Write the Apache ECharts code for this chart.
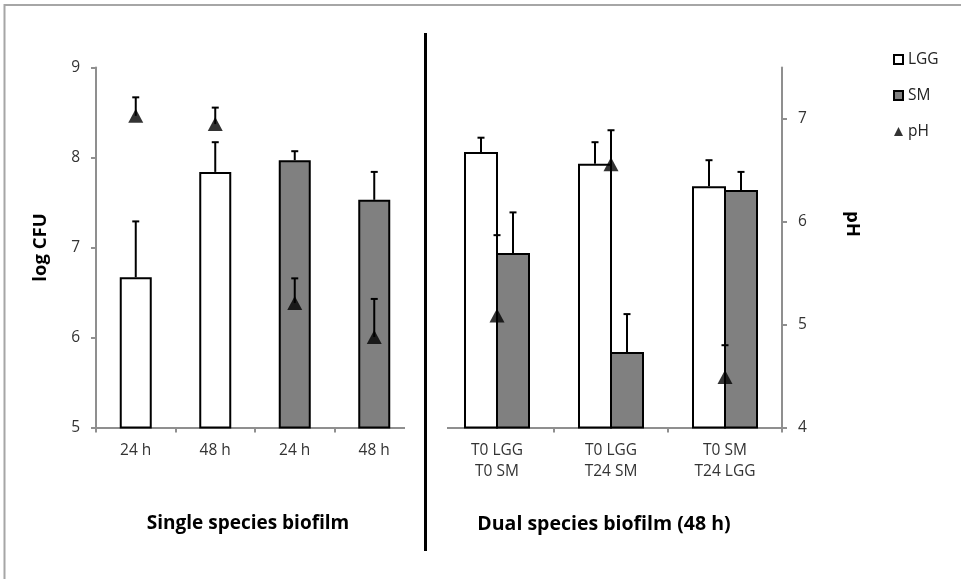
<!DOCTYPE html>
<html>
<head>
<meta charset="utf-8">
<script src="https://cdn.jsdelivr.net/npm/echarts@6/dist/echarts.min.js"></script>
<style>
  html, body { margin: 0; padding: 0; background: #fff; }
  #chart { width: 961px; height: 579px; }
</style>
</head>
<body>
<div id="chart"></div>
<script>
// Single species biofilm (left panel)
const singleCats = ['24 h', '48 h', '24 h', '48 h'];
const singleLGG = [6.67, 7.84, null, null];
const singleLGGErr = [0.62, 0.33, null, null];
const singleSM = [null, null, 7.97, 7.53];
const singleSMErr = [null, null, 0.10, 0.31];
const singlePH = [7.03, 6.95, 5.21, 4.88];
const singlePHErr = [0.18, 0.16, 0.24, 0.37];

// Dual species biofilm, 48 h (right panel)
const dualCats = ['T0 LGG\nT0 SM', 'T0 LGG\nT24 SM', 'T0 SM\nT24 LGG'];
const dualLGG = [8.06, 7.93, 7.68];
const dualLGGErr = [0.16, 0.24, 0.29];
const dualSM = [6.94, 5.84, 7.64];
const dualSMErr = [0.45, 0.42, 0.20];
const dualPH = [5.09, 6.56, 4.49];
const dualPHErr = [0.78, 0.33, 0.31];

// Axis ticks
const cfuTicks = [5, 6, 7, 8, 9];
const phTicks = [4, 5, 6, 7];

const FONT = '"Open Sans", Lato, sans-serif';
const AXIS_GREY = '#8f8f8f';
const SM_GREY = '#808080';

// Right-panel bar geometry: paired bars share their touching border
const DUAL_BAR_W = 34;
const DUAL_OVERLAP = 2;
const DUAL_OFFSET = (DUAL_BAR_W - DUAL_OVERLAP) / 2;

// Pair each value with its category index and error for the error-bar series
function errData(values, errs) {
  return values.map((v, i) => [i, v == null ? null : v, errs[i] == null ? null : errs[i]]);
}

// Upward-only error bar with a short cap; dx shifts it onto a side-by-side bar
function errorBar(dx) {
  return function (params, api) {
    const v = api.value(1);
    const e = api.value(2);
    if (v == null || isNaN(v) || e == null || isNaN(e)) return;
    const p0 = api.coord([api.value(0), v]);
    const p1 = api.coord([api.value(0), v + e]);
    const x = p0[0] + dx;
    const style = { stroke: '#000', lineWidth: 2 };
    return {
      type: 'group',
      children: [
        { type: 'line', shape: { x1: x, y1: p0[1], x2: x, y2: p1[1] }, style },
        { type: 'line', shape: { x1: x - 3.5, y1: p1[1], x2: x + 3.5, y2: p1[1] }, style }
      ]
    };
  };
}

const catAxis = (gridIndex, data) => ({
  type: 'category',
  gridIndex,
  data,
  axisLine: { show: true, lineStyle: { color: AXIS_GREY, width: 2 } },
  axisTick: { show: true, interval: 0, length: 5, lineStyle: { color: AXIS_GREY, width: 2 } },
  axisLabel: { interval: 0, margin: 13, fontFamily: FONT, fontSize: 15.5, color: '#333', lineHeight: 21 },
  splitLine: { show: false }
});

const valAxis = (gridIndex, min, max, ticks, show, position) => ({
  type: 'value',
  gridIndex,
  min, max, interval: 1,
  show,
  position,
  axisLine: { show: true, lineStyle: { color: AXIS_GREY, width: 2 } },
  axisTick: { show: true, length: 5, customValues: ticks, lineStyle: { color: AXIS_GREY, width: 2 } },
  axisLabel: { customValues: ticks, margin: 16, fontFamily: FONT, fontSize: 15.5, color: '#333' },
  splitLine: { show: false }
});

const barStyle = (fill) => ({ color: fill, borderColor: '#000', borderWidth: 2 });

const chart = echarts.init(document.getElementById('chart'), null, { renderer: 'canvas' });

const cfuAxisLeft = valAxis(0, 5, 9, cfuTicks, true, 'left');
Object.assign(cfuAxisLeft, {
  name: 'log CFU',
  nameLocation: 'middle',
  nameRotate: 90,
  nameGap: 46,
  nameTextStyle: { fontFamily: FONT, fontSize: 18.5, fontWeight: 'bold', color: '#000' }
});

chart.setOption({
  animation: false,
  backgroundColor: '#fff',
  grid: [
    { left: 96, right: 547, top: 67.5, bottom: 151.5 },
    { left: 440, right: 179, top: 67.5, bottom: 151.5 }
  ],
  legend: {
    orient: 'vertical',
    left: 888,
    top: 45,
    itemWidth: 9,
    itemHeight: 9,
    itemGap: 17,
    textStyle: { fontFamily: FONT, fontSize: 15.5, color: '#222', lineHeight: 19 },
    data: [
      { name: 'LGG', icon: 'rect' },
      { name: 'SM', icon: 'rect' },
      { name: 'pH', icon: 'triangle' }
    ]
  },
  xAxis: [catAxis(0, singleCats), catAxis(1, dualCats)],
  yAxis: [
    cfuAxisLeft,
    valAxis(0, 4, 7.5, phTicks, false, 'right'),
    valAxis(1, 5, 9, cfuTicks, false, 'left'),
    valAxis(1, 4, 7.5, phTicks, true, 'right')
  ],
  series: [
    // left panel bars: one bar per category, LGG and SM overlaid on the same slot
    { name: 'LGG', type: 'bar', xAxisIndex: 0, yAxisIndex: 0, data: singleLGG, barWidth: 32, barGap: '-100%', itemStyle: barStyle('#fff'), z: 2 },
    { name: 'SM', type: 'bar', xAxisIndex: 0, yAxisIndex: 0, data: singleSM, barWidth: 32, barGap: '-100%', itemStyle: barStyle(SM_GREY), z: 2 },
    { type: 'custom', xAxisIndex: 0, yAxisIndex: 0, data: errData(singleLGG, singleLGGErr), renderItem: errorBar(0), z: 3, silent: true },
    { type: 'custom', xAxisIndex: 0, yAxisIndex: 0, data: errData(singleSM, singleSMErr), renderItem: errorBar(0), z: 3, silent: true },
    { name: 'pH', type: 'scatter', xAxisIndex: 0, yAxisIndex: 1, data: singlePH, symbol: 'triangle', symbolSize: [15, 14], itemStyle: { color: '#000' }, z: 4 },
    { type: 'custom', xAxisIndex: 0, yAxisIndex: 1, data: errData(singlePH, singlePHErr), renderItem: errorBar(0), z: 5, silent: true },

    // right panel bars: LGG and SM side by side
    { name: 'LGG', type: 'bar', xAxisIndex: 1, yAxisIndex: 2, data: dualLGG, barWidth: DUAL_BAR_W, barGap: (-DUAL_OVERLAP / DUAL_BAR_W * 100) + '%', itemStyle: barStyle('#fff'), z: 2 },
    { name: 'SM', type: 'bar', xAxisIndex: 1, yAxisIndex: 2, data: dualSM, barWidth: DUAL_BAR_W, barGap: (-DUAL_OVERLAP / DUAL_BAR_W * 100) + '%', itemStyle: barStyle(SM_GREY), z: 2 },
    { type: 'custom', xAxisIndex: 1, yAxisIndex: 2, data: errData(dualLGG, dualLGGErr), renderItem: errorBar(-DUAL_OFFSET), z: 3, silent: true },
    { type: 'custom', xAxisIndex: 1, yAxisIndex: 2, data: errData(dualSM, dualSMErr), renderItem: errorBar(DUAL_OFFSET), z: 3, silent: true },
    { name: 'pH', type: 'scatter', xAxisIndex: 1, yAxisIndex: 3, data: dualPH, symbol: 'triangle', symbolSize: [15, 14], itemStyle: { color: '#000' }, z: 4 },
    { type: 'custom', xAxisIndex: 1, yAxisIndex: 3, data: errData(dualPH, dualPHErr), renderItem: errorBar(0), z: 5, silent: true }
  ],
  graphic: [
    // outer frame (top and left edges visible)
    { type: 'rect', z: 0, silent: true, shape: { x: 4.5, y: 5, width: 1000, height: 1000 }, style: { fill: null, stroke: '#a6a6a6', lineWidth: 2 } },
    // gap between the two panels' category axes
    { type: 'rect', z: 50, silent: true, shape: { x: 405, y: 425, width: 10, height: 10 }, style: { fill: '#fff' } },
    { type: 'rect', z: 50, silent: true, shape: { x: 437, y: 425, width: 10, height: 10 }, style: { fill: '#fff' } },
    // panel divider
    { type: 'rect', z: 60, silent: true, shape: { x: 424, y: 33, width: 3, height: 518 }, style: { fill: '#000' } },
    // right axis title
    { type: 'text', z: 60, silent: true, x: 852, y: 224, rotation: -Math.PI / 2,
      style: { text: 'pH', fontFamily: FONT, fontSize: 18.5, fontWeight: 'bold', fill: '#000', align: 'center', verticalAlign: 'middle' } },
    // panel titles
    { type: 'text', z: 60, silent: true, x: 248, y: 524,
      style: { text: 'Single species biofilm', fontFamily: FONT, fontSize: 19, fontWeight: 'bold', fill: '#000', align: 'center', verticalAlign: 'middle' } },
    { type: 'text', z: 60, silent: true, x: 604, y: 524,
      style: { text: 'Dual species biofilm (48 h)', fontFamily: FONT, fontSize: 19.5, fontWeight: 'bold', fill: '#000', align: 'center', verticalAlign: 'middle' } }
  ]
});
</script>
</body>
</html>
